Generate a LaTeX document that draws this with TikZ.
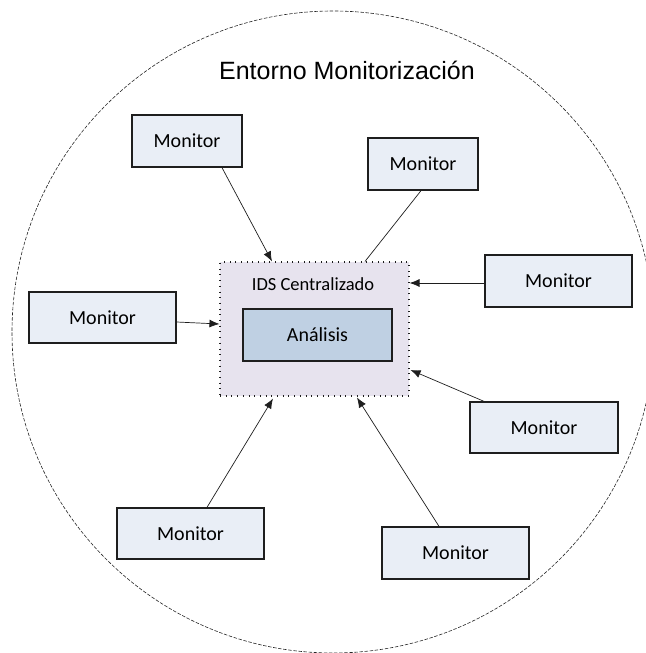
\documentclass[tikz,border=0pt]{standalone}
\usepackage{fontspec}
\setmainfont{Carlito}
\newfontfamily\titlefont{Liberation Sans}
\usetikzlibrary{arrows.meta,calc}

\definecolor{monfill}{HTML}{E9EEF6}
\definecolor{idsfill}{HTML}{E7E3EE}
\definecolor{anafill}{HTML}{BFD0E3}
\definecolor{edge}{HTML}{1E1E1E}

\tikzset{
  monbox/.style={draw=edge, line width=1.3pt, fill=monfill, rectangle,
    inner sep=0pt, font=\fontsize{20}{24}\selectfont},
  idsbox/.style={draw=edge, line width=1.1pt, dash pattern=on 0.9pt off 4.8pt,
    fill=idsfill, rectangle, inner sep=0pt},
  anabox/.style={draw=edge, line width=1.3pt, fill=anafill, rectangle,
    inner sep=0pt, font=\fontsize{20}{24}\selectfont},
  feed/.style={draw=edge, line width=0.7pt, -{Latex[length=10pt,width=8pt]}},
  plainlink/.style={draw=edge, line width=0.7pt},
}

\begin{document}
\begin{tikzpicture}[x=1pt,y=-1pt]
  \useasboundingbox (0,0) rectangle (645,653);

  % monitoring environment boundary
  \draw[line width=0.6pt, draw=black!85, dash pattern=on 3.5pt off 1.6pt]
    (333,332) circle [radius=321];
  \node[font=\titlefont\fontsize{25}{30}\selectfont, anchor=center]
    (title) at (347,70) {Entorno Monitorización};

  % central IDS
  \node[idsbox, minimum width=189pt, minimum height=134pt] (ids) at (314.5,329) {};
  \node[font=\fontsize{18.5}{22}\selectfont] (idslabel) at (313,284) {IDS Centralizado};
  \node[anabox, minimum width=149pt, minimum height=52pt] (ana) at (317.5,335) {Análisis};

  % monitors
  \node[monbox, minimum width=110pt, minimum height=52pt] (m1) at (187,141) {Monitor};
  \node[monbox, minimum width=110pt, minimum height=52pt] (m2) at (423,164) {Monitor};
  \node[monbox, minimum width=147pt, minimum height=52pt] (m3) at (558.5,281) {Monitor};
  \node[monbox, minimum width=148pt, minimum height=51pt] (m4) at (544,427.5) {Monitor};
  \node[monbox, minimum width=147pt, minimum height=52pt] (m5) at (455.5,553) {Monitor};
  \node[monbox, minimum width=147pt, minimum height=51pt] (m6) at (190.5,533.5) {Monitor};
  \node[monbox, minimum width=147pt, minimum height=51pt] (m7) at (102.5,317.5) {Monitor};

  % links to the IDS
  \draw[feed] ($(m1.south)+(35,0)$) -- ($(ids.north)+(-42.5,0)$);
  \draw[plainlink] ($(m2.south)+(-2,0)$) -- ($(ids.north)+(50.5,0)$);
  \draw[feed] ($(m3.west)+(0,2)$) -- ($(ids.east)+(0,-46)$);
  \draw[feed] ($(m4.north)+(-60,0)$) -- ($(ids.east)+(1,41)$);
  \draw[feed] ($(m5.north)+(-16.5,0)$) -- ($(ids.south)+(42.5,1)$);
  \draw[feed] ($(m6.north)+(16.5,0)$) -- ($(ids.south)+(-41.5,2)$);
  \draw[feed] ($(m7.east)+(0,4.5)$) -- ($(ids.west)+(0,-5)$);
\end{tikzpicture}
\end{document}
